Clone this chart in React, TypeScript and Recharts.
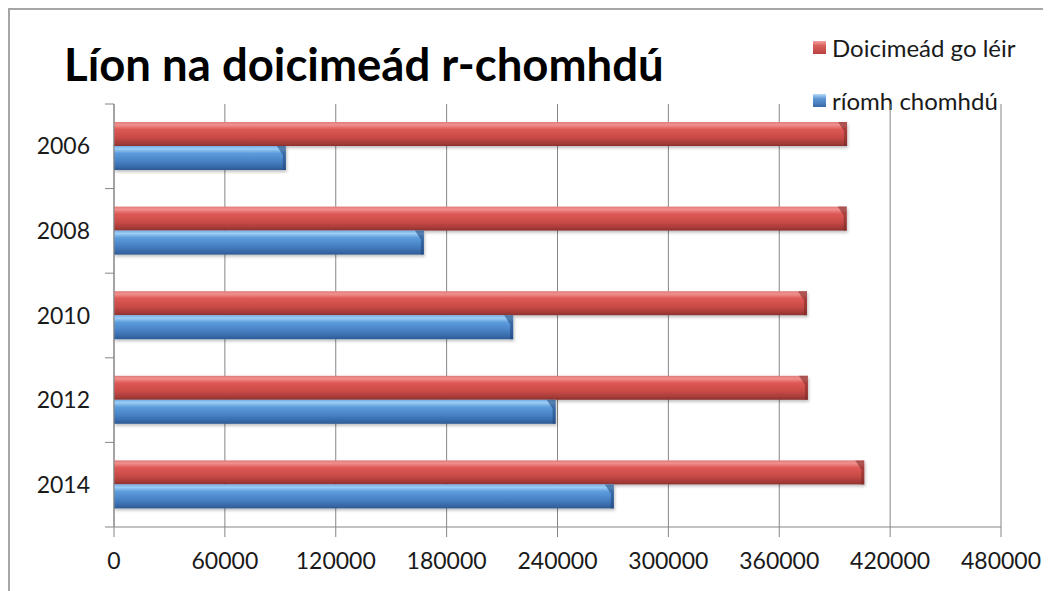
import React from 'react'
import { BarChart, Bar, XAxis, YAxis, CartesianGrid } from 'recharts'

const years = ['2006', '2008', '2010', '2012', '2014']
const totalDocs = [396700, 396500, 375000, 375500, 406000]
const eDocs = [93000, 167700, 216000, 239000, 270500]
const xTicks = [0, 60000, 120000, 180000, 240000, 300000, 360000, 420000, 480000]
const seriesNames = ['Doicimeád go léir', 'ríomh chomhdú']

const data = years.map((year, i) => ({
    year,
    total: totalDocs[i],
    electronic: eDocs[i],
}))

const FONT = 'Lato, "Open Sans", sans-serif'
const AXIS = '#868686'
const Y_TICK_SIZE = 9
const Y_TICK_MARGIN = 15

function makeShape(id: string, edge: string) {
    return (props: any) => {
        const { x, y, width, height } = props
        if (!width || width <= 0) return <g />
        const b = Math.min(9, height / 2.5)
        return (
            <g filter="url(#barShadow)">
                <rect x={x} y={y} width={width} height={height} fill={`url(#${id})`} />
                <polygon
                    points={`${x + width - b},${y} ${x + width},${y} ${x + width},${y + height} ${x + width - 3},${y + height} ${x + width - 3},${y + b}`}
                    fill={edge}
                    opacity={0.55}
                />
            </g>
        )
    }
}

const YTick = (props: any) => {
    const { x, y, payload, index, visibleTicksCount, height } = props
    const band = (height || 423) / (visibleTicksCount || 5)
    const x1 = x + Y_TICK_MARGIN
    const x2 = x1 + Y_TICK_SIZE
    return (
        <g>
            <line x1={x1} x2={x2} y1={y - band / 2} y2={y - band / 2} stroke={AXIS} />
            {index === visibleTicksCount - 1 && (
                <line x1={x1} x2={x2} y1={y + band / 2} y2={y + band / 2} stroke={AXIS} />
            )}
            <text x={x} y={y} dy="0.355em" textAnchor="end" fill="#1a1a1a" fontSize={23} fontFamily={FONT}>
                {payload.value}
            </text>
        </g>
    )
}

const legendSwatches = [
    'linear-gradient(#f3a3a2 0%, #d9605d 35%, #b8423f 100%)',
    'linear-gradient(#b5dcf8 0%, #5f98d6 35%, #3a6aa8 100%)',
]

export default function App() {
    return (
        <div
            style={{
                position: 'relative',
                width: 1041,
                height: 581,
                borderTop: '2px solid #a6a6a6',
                borderLeft: '2px solid #a6a6a6',
                background: '#fff',
                overflow: 'hidden',
            }}
        >
            <svg width={700} height={100} style={{ position: 'absolute', left: 0, top: 0 }}>
                <text x={54} y={71} fontFamily={FONT} fontWeight={700} fontSize={45.5} fill="#000">
                    Líon na doicimeád r-chomhdú
                </text>
            </svg>
            <div
                style={{
                    position: 'absolute',
                    left: 803,
                    top: 23,
                    fontFamily: FONT,
                    fontSize: 24,
                    color: '#1a1a1a',
                }}
            >
                {seriesNames.map((name, i) => (
                    <div key={name} style={{ display: 'flex', alignItems: 'center', height: 28, marginBottom: 25 }}>
                        <span
                            style={{
                                display: 'inline-block',
                                width: 13,
                                height: 13,
                                marginRight: 6,
                                background: legendSwatches[i],
                            }}
                        />
                        <span>{name}</span>
                    </div>
                ))}
            </div>
            <BarChart
                width={1041}
                height={581}
                data={data}
                layout="vertical"
                margin={{ top: 94, right: 50, bottom: 0, left: 10 }}
                barCategoryGap={18}
                barGap={0}
            >
                <defs>
                    <linearGradient id="redGrad" x1="0" y1="0" x2="0" y2="1">
                        <stop offset="0%" stopColor="#e27a79" />
                        <stop offset="12%" stopColor="#f0908e" />
                        <stop offset="30%" stopColor="#de5956" />
                        <stop offset="65%" stopColor="#c84a47" />
                        <stop offset="88%" stopColor="#a63b38" />
                        <stop offset="100%" stopColor="#8c3230" />
                    </linearGradient>
                    <linearGradient id="blueGrad" x1="0" y1="0" x2="0" y2="1">
                        <stop offset="0%" stopColor="#74ade4" />
                        <stop offset="12%" stopColor="#9ccdf4" />
                        <stop offset="30%" stopColor="#5d9cdc" />
                        <stop offset="65%" stopColor="#4680c3" />
                        <stop offset="88%" stopColor="#3768a8" />
                        <stop offset="100%" stopColor="#2c5a92" />
                    </linearGradient>
                    <filter id="barShadow" x="-5%" y="-20%" width="110%" height="160%">
                        <feDropShadow dx="1" dy="2" stdDeviation="1.5" floodColor="#000" floodOpacity="0.25" />
                    </filter>
                </defs>
                <CartesianGrid horizontal={false} stroke={AXIS} />
                <XAxis
                    type="number"
                    domain={[0, 480000]}
                    ticks={xTicks}
                    interval={0}
                    height={64}
                    stroke={AXIS}
                    tickSize={10}
                    tickMargin={16}
                    tick={{ fill: '#1a1a1a', fontSize: 23, fontFamily: FONT }}
                />
                <YAxis
                    type="category"
                    dataKey="year"
                    width={94}
                    stroke={AXIS}
                    tickLine={false}
                    tickSize={Y_TICK_SIZE}
                    tickMargin={Y_TICK_MARGIN}
                    tick={<YTick />}
                />
                <Bar
                    dataKey="total"
                    name={seriesNames[0]}
                    fill="#c0504d"
                    shape={makeShape('redGrad', '#7a2a28')}
                    isAnimationActive={false}
                />
                <Bar
                    dataKey="electronic"
                    name={seriesNames[1]}
                    fill="#4f81bd"
                    shape={makeShape('blueGrad', '#1f4478')}
                    isAnimationActive={false}
                />
            </BarChart>
        </div>
    )
}
